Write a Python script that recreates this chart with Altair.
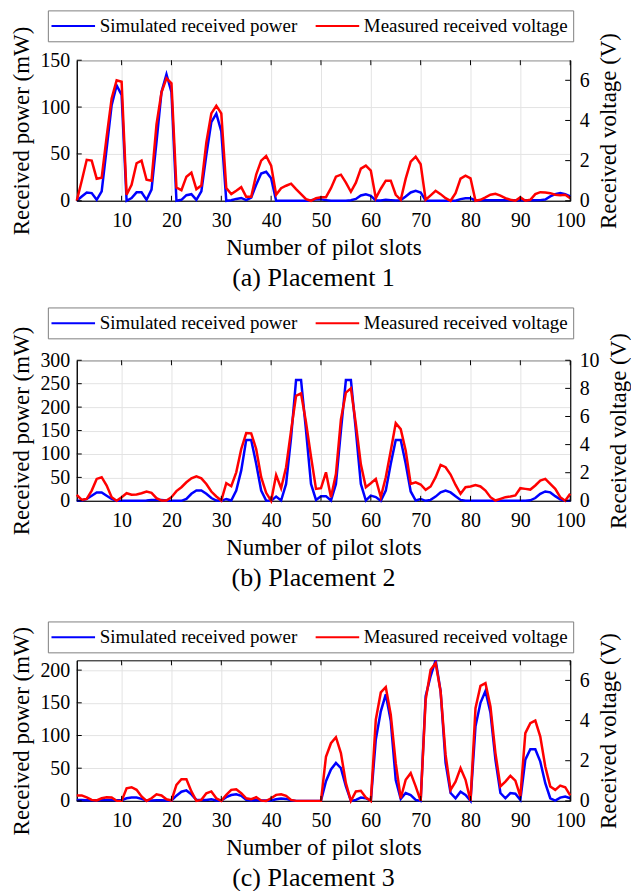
import altair as alt
import pandas as pd

slots = list(range(1, 101))

# Placement 1
p1_sim = [0, 4.6, 8.9, 8.2, 1, 10, 56, 102, 123, 113,
          0, 3, 9, 9, 1, 12, 63, 116, 135, 116,
          0, 1, 6, 7, 1, 10, 49, 84, 93, 74,
          0, 0.5, 2, 3, 0.7, 3.5, 17, 29, 31, 24,
          0, 0, 0, 0, 0, 0, 0, 0.5, 1.5, 1.5,
          0.7, 0, 0, 0, 0, 0.5, 2, 5.7, 7, 5.3,
          0.3, 0.3, 1, 0.7, 0.3, 0.7, 4.6, 8.9, 10.6, 8.9,
          0.3, 0, 0, 0, 0, 0, 0, 1.8, 2.8, 2.8,
          0.3, 0.5, 0.5, 0.5, 0.5, 0.5, 0.5, 0.5, 0.5, 0.5,
          0.5, 0.5, 0.5, 0.7, 1.4, 4.6, 7, 8.2, 7, 4.6]
p1_meas = [0, 1.0, 2.04, 2.0, 1.1, 1.15, 3.2, 5.1, 6.0, 5.93,
           0.3, 0.8, 1.87, 2.0, 1.05, 1.0, 3.8, 5.4, 6.1, 5.85,
           0.66, 0.53, 1.2, 1.4, 0.58, 0.76, 2.9, 4.35, 4.73, 4.35,
           0.63, 0.33, 0.5, 0.68, 0.2, 0.2, 1.3, 2.0, 2.23, 1.75,
           0.3, 0.63, 0.75, 0.85, 0.58, 0.33, 0.08, 0, 0.13, 0.17,
           0.18, 0.63, 1.2, 1.3, 0.9, 0.45, 0.9, 1.6, 1.75, 1.5,
           0.13, 0.6, 1.0, 1.0, 0.3, 0.05, 1.1, 1.95, 2.2, 1.82,
           0.05, 0.27, 0.5, 0.33, 0.13, 0, 0.38, 1.1, 1.25, 1.12,
           0, 0.05, 0.17, 0.3, 0.35, 0.26, 0.13, 0.05, 0, 0.17,
           0, 0.05, 0.33, 0.43, 0.41, 0.38, 0.3, 0.27, 0.3, 0.13]

# Placement 2
p2_sim = [0, 0.7, 4, 11, 18, 18, 11, 4, 0, 0,
          0, 0, 0, 0, 0.5, 2, 2, 2, 0.5, 0,
          0, 0, 4, 15, 22, 22, 15, 6, 0.7, 0,
          4, 0.7, 22, 65, 130, 130, 79, 22, 0.7, 0,
          9, 0.7, 36, 135, 258, 258, 150, 36, 2, 10,
          10, 0.7, 36, 150, 258, 258, 150, 36, 0.7, 11,
          8, 0, 22, 79, 130, 130, 79, 20, 0.7, 4,
          0, 2, 9, 18, 22, 18, 10, 2, 0, 0,
          0, 0, 0, 0, 0, 0, 0, 0, 0, 0,
          0, 1, 6, 15, 20, 18, 10, 3, 0, 0]
p2_meas = [0.43, 0.07, 0.14, 0.73, 1.56, 1.68, 1.09, 0.26, 0, 0.26,
           0.54, 0.43, 0.45, 0.54, 0.66, 0.57, 0.19, 0.02, 0.02, 0.26,
           0.69, 0.97, 1.32, 1.6, 1.75, 1.6, 1.2, 0.66, 0.31, 0.02,
           1.25, 1.04, 2.03, 3.69, 4.82, 4.8, 3.69, 1.68, 0.57, 0,
           1.84, 0.9, 2.39, 5.0, 7.47, 7.64, 5.58, 3.14, 0.85, 0.9,
           2.03, 0.26, 1.9, 5.8, 7.7, 8.0, 5.46, 2.6, 0.97, 1.25,
           1.56, 0.26, 1.68, 3.57, 5.53, 5.1, 3.57, 1.2, 1.32, 1.16,
           0.78, 1.02, 1.68, 2.55, 2.39, 1.87, 1.13, 0.5, 0.97, 1.02,
           1.13, 1.02, 0.73, 0.26, 0.02, 0.14, 0.26, 0.31, 0.38, 0.9,
           0.85, 0.8, 1.09, 1.44, 1.56, 1.2, 0.85, 0.26, 0, 0.5]

# Placement 3
p3_sim = [1.5, 1.5, 1, 1, 1, 1.5, 1.5, 1.5, 1, 1,
          4, 5, 5, 3, 0.5, 0.5, 1, 1, 0.5, 0.5,
          8, 14, 16, 10, 1.5, 1.5, 1.5, 2.5, 0.5, 0.5,
          5.6, 9, 10, 7.7, 1.5, 0.5, 1.5, 0.5, 0.5, 0.5,
          2.5, 3.6, 3, 1, 0, 0, 0, 0, 0, 0,
          30, 48, 58, 50, 22, 0, 1.5, 5, 4, 0,
          94, 137, 163, 122, 32, 3, 12, 9, 1.5, 0,
          160, 191, 215, 168, 58, 12, 4, 14, 9, 0,
          114, 150, 168, 135, 63, 12, 4, 12, 11, 1.5,
          63, 79, 79, 60, 27, 4, 0.5, 5, 6.6, 4]
p3_meas = [0.27, 0.27, 0.17, 0.05, 0.02, 0.13, 0.18, 0.17, 0, 0,
           0.63, 0.68, 0.55, 0.22, 0, 0.13, 0.33, 0.27, 0.08, 0.02,
           0.8, 1.08, 1.08, 0.47, 0, 0.05, 0.38, 0.47, 0.13, 0,
           0.3, 0.55, 0.58, 0.38, 0.13, 0.08, 0.18, 0.02, 0, 0.13,
           0.3, 0.33, 0.25, 0.05, 0, 0, 0, 0, 0, 0,
           2.2, 2.87, 3.17, 2.38, 0.88, 0, 0.47, 0.5, 0.17, 0,
           4.04, 5.4, 5.66, 4.29, 1.88, 0.13, 1.05, 1.38, 0.72, 0,
           5.03, 6.53, 6.86, 5.45, 2.29, 0.55, 0.96, 1.63, 1.05, 0,
           4.62, 5.73, 5.86, 4.7, 2.38, 0.72, 0.96, 1.25, 1.01, 0.22,
           3.37, 3.87, 4.0, 3.2, 1.71, 0.72, 0.55, 0.76, 0.68, 0.27]

x_ticks = [10, 20, 30, 40, 50, 60, 70, 80, 90, 100]
captions = ["(a) Placement 1", "(b) Placement 2", "(c) Placement 3"]
series_names = ["Simulated received power", "Measured received voltage"]
series_colors = ["#0000ff", "#ff0000"]

FONT = "Liberation Serif"
W, H = 495, 141
TICK = 5


def x_axis():
    return alt.Axis(values=x_ticks, title="Number of pilot slots", grid=True, ticks=False,
                    tickSize=0, labelPadding=10, titlePadding=6, labelFontSize=20,
                    titleFontSize=23, labelFlush=False, labelFont=FONT, titleFont=FONT,
                    titleFontWeight="normal", labelColor="black", titleColor="black")


def panel(sim, meas, ldom, lticks, rdom, rticks, caption, legend_y):
    d_sim = pd.DataFrame({"slot": slots, "value": sim, "series": series_names[0]})
    d_meas = pd.DataFrame({"slot": slots, "value": meas, "series": series_names[1]})
    xs = alt.Scale(domain=[1, 100], nice=False, zero=False)
    legend = alt.Legend(
        title=None, orient="none", legendX=-29, legendY=legend_y,
        direction="horizontal", symbolType="M-2.3,0H2.3", symbolSize=361,
        symbolOffset=10, symbolStrokeWidth=2, symbolFillColor="transparent",
        labelFont=FONT, labelFontSize=19,
        labelColor="black", labelLimit=400, labelOffset=16, columnPadding=13,
        padding=5, strokeColor="#808080", fillColor="white",
    )
    color = alt.Color("series:N", scale=alt.Scale(domain=series_names, range=series_colors),
                      legend=legend)
    blue = alt.Chart(d_sim).mark_line(strokeWidth=2.5).encode(
        x=alt.X("slot:Q", scale=xs, axis=x_axis()),
        y=alt.Y("value:Q", scale=alt.Scale(domain=ldom, nice=False),
                axis=alt.Axis(values=lticks, title="Received power (mW)", orient="left",
                              grid=True, ticks=False, tickSize=0, labelPadding=7,
                              titlePadding=6, labelFontSize=20, titleFontSize=23,
                              labelFont=FONT, titleFont=FONT, titleFontWeight="normal")),
        color=color,
    )
    red = alt.Chart(d_meas).mark_line(strokeWidth=2.5).encode(
        x=alt.X("slot:Q", scale=xs, axis=x_axis()),
        y=alt.Y("value:Q", scale=alt.Scale(domain=rdom, nice=False),
                axis=alt.Axis(values=rticks, title="Received voltage (V)", orient="right",
                              grid=False, ticks=False, tickSize=0, labelPadding=9,
                              titlePadding=8, labelFontSize=20, titleFontSize=23,
                              titleAngle=270, titleBaseline="top",
                              labelFont=FONT, titleFont=FONT, titleFontWeight="normal")),
        color=color,
    )
    xt = pd.DataFrame({"slot": x_ticks})
    xt_bot = alt.Chart(xt).mark_rule(color="black", strokeWidth=1).encode(
        x=alt.X("slot:Q", scale=xs, axis=x_axis()), y=alt.value(H), y2=alt.value(H - TICK))
    xt_top = alt.Chart(xt).mark_rule(color="black", strokeWidth=1).encode(
        x=alt.X("slot:Q", scale=xs, axis=x_axis()), y=alt.value(0), y2=alt.value(TICK))
    lt = alt.Chart(pd.DataFrame({"t": lticks})).mark_rule(color="black", strokeWidth=1).encode(
        y=alt.Y("t:Q", scale=alt.Scale(domain=ldom, nice=False), axis=None),
        x=alt.value(0), x2=alt.value(TICK))
    rt = alt.Chart(pd.DataFrame({"t": rticks})).mark_rule(color="black", strokeWidth=1).encode(
        y=alt.Y("t:Q", scale=alt.Scale(domain=rdom, nice=False), axis=None),
        x=alt.value(W), x2=alt.value(W - TICK))
    return alt.layer(blue, red, xt_bot, xt_top, lt, rt).resolve_scale(y="independent").properties(
        width=W, height=H,
        title=alt.TitleParams(caption, orient="bottom", font=FONT, fontSize=26,
                              fontWeight="normal", color="black", offset=5, dx=-10,
                              anchor="middle"),
    )


c1 = panel(p1_sim, p1_meas, [0, 150], [0, 50, 100, 150], [0, 7], [0, 2, 4, 6], captions[0], -50)
c2 = panel(p2_sim, p2_meas, [0, 300], [0, 50, 100, 150, 200, 250, 300], [0, 10],
           [0, 2, 4, 6, 8, 10], captions[1], -53)
c3 = panel(p3_sim, p3_meas, [0, 215], [0, 50, 100, 150, 200], [0, 7], [0, 2, 4, 6], captions[2], -39)

chart = alt.vconcat(c1, c2, c3, spacing=160, bounds="flush",
                    padding={"left": 10, "top": 8, "right": 0, "bottom": 0},
                    background="white").resolve_scale(
    color="independent"
).configure_view(stroke="black", strokeWidth=1).configure_axis(
    domainColor="black", domainWidth=1, labelColor="black", titleColor="black",
    labelFont=FONT, titleFont=FONT, titleFontWeight="normal", gridColor="#e3e3e3",
    gridWidth=1,
)

chart.save("out.html", embed_options={"renderer": "svg", "actions": False})
